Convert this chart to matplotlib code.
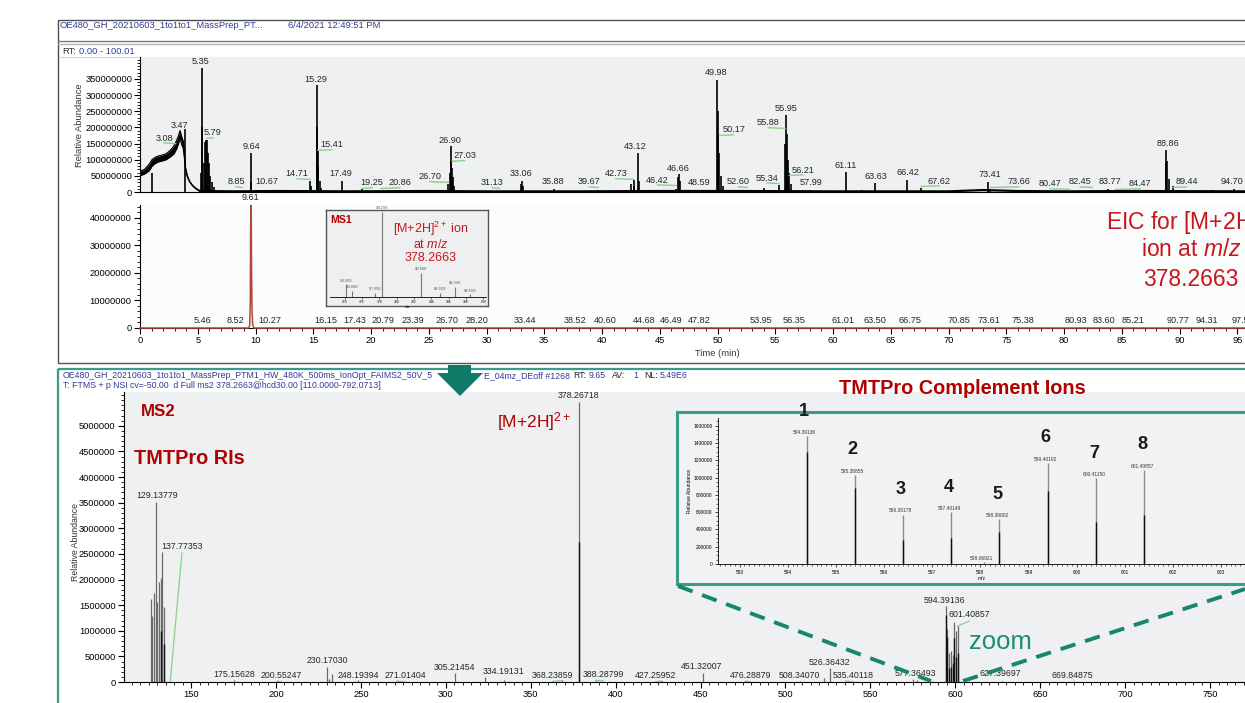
import matplotlib
matplotlib.use("Agg")
import matplotlib.pyplot as plt
from matplotlib import font_manager
from matplotlib.patches import Rectangle, Polygon
from matplotlib.ticker import MultipleLocator, FixedLocator, FuncFormatter

W, H = 1245, 703

# ---------------- TIC (intensity in 1e8) ----------------
tic_hump_t = [0.0, 0.4, 0.8, 1.04, 1.3, 1.56, 1.9, 2.25, 2.6, 2.94, 3.2, 3.35, 3.47, 3.6, 3.75, 3.85,
              3.95, 4.1, 4.3, 4.55, 4.8, 5.0, 5.2]
tic_hump_lo = [0.50, 0.56, 0.66, 0.80, 0.88, 0.93, 0.96, 1.00, 1.08, 1.18, 1.36, 1.52, 1.70, 1.48, 1.35, 1.05,
               0.68, 0.47, 0.31, 0.19, 0.11, 0.06, 0.02]
tic_hump_hi = [0.64, 0.70, 0.86, 1.00, 1.07, 1.11, 1.14, 1.18, 1.28, 1.42, 1.62, 1.76, 1.90, 1.72, 1.56, 1.16,
               0.73, 0.50, 0.33, 0.21, 0.13, 0.08, 0.04]
tic_stick_t = [1.04, 3.9, 5.25, 5.35, 5.40, 5.50, 5.62, 5.72, 5.79, 5.88, 5.95, 6.05, 6.2, 6.4,
               9.60, 9.64, 10.67, 14.71, 14.80, 15.29, 15.33, 15.38, 15.45, 15.55, 15.70, 17.49, 19.25, 20.86,
               26.70, 26.80, 26.90, 26.95, 27.03, 27.10, 27.20, 31.13, 33.0, 33.06, 33.15, 35.88, 39.67,
               42.5, 42.73, 42.8, 43.12, 43.2, 46.42, 46.60, 46.66, 46.75, 48.59,
               49.98, 50.02, 50.08, 50.17, 50.3, 50.5, 52.6, 54.0, 55.34, 55.88, 55.95, 56.02, 56.1, 56.21, 56.4, 57.99,
               61.11, 62.5, 63.63, 66.42, 67.62, 73.41, 73.6, 83.77, 88.80, 88.86, 88.95, 89.05, 89.44, 92.8, 94.70]
tic_stick_i = [0.60, 1.95, 0.60, 3.84, 2.00, 0.90, 1.55, 1.62, 1.60, 1.20, 0.90, 0.50, 0.30, 0.15,
               0.30, 1.20, 0.05, 0.35, 0.20, 3.30, 2.00, 1.30, 0.80, 0.35, 0.12, 0.35, 0.08, 0.04,
               0.25, 0.60, 1.43, 0.95, 0.75, 0.45, 0.20, 0.03, 0.25, 0.35, 0.20, 0.08, 0.05,
               0.25, 0.38, 0.20, 1.20, 0.35, 0.08, 0.45, 0.55, 0.35, 0.05,
               3.47, 2.50, 1.80, 1.20, 0.50, 0.20, 0.05, 0.12, 0.22, 1.50, 2.38, 1.80, 1.00, 0.60, 0.25, 0.06,
               0.62, 0.05, 0.28, 0.38, 0.12, 0.30, 0.08, 0.08, 0.90, 1.30, 0.95, 0.40, 0.20, 0.05, 0.08]
tic_base_t = [5.2, 8, 12, 18, 25, 30, 38, 45, 52, 60, 70, 73, 76, 80, 86, 95.7]
tic_base_i = [0.03, 0.02, 0.03, 0.02, 0.03, 0.02, 0.02, 0.03, 0.03, 0.02, 0.02, 0.06, 0.03, 0.02, 0.03, 0.02]
tic_lab = ["3.08", "3.47", "5.35", "5.79", "8.85", "9.64", "10.67", "14.71", "15.29", "15.41", "17.49",
           "19.25", "20.86", "26.70", "26.90", "27.03", "31.13", "33.06", "35.88", "39.67", "42.73", "43.12",
           "46.42", "46.66", "48.59", "49.98", "50.17", "52.60", "55.34", "55.88", "55.95", "56.21", "57.99",
           "61.11", "63.63", "66.42", "67.62", "73.41", "73.66", "80.47", "82.45", "83.77", "84.47", "88.86",
           "89.44", "94.70"]
tic_lab_x = [2.08, 3.46, 5.28, 6.32, 8.31, 9.61, 11.0, 13.6, 15.2, 16.6, 17.4, 20.1, 22.5, 25.1, 26.8, 28.1,
             30.5, 33.0, 35.8, 38.9, 41.2, 42.9, 44.8, 46.6, 48.4, 49.9, 51.4, 51.8, 54.3, 54.4, 55.9, 57.4,
             58.1, 61.1, 63.7, 66.5, 69.2, 73.6, 76.1, 78.8, 81.4, 84.0, 86.6, 89.0, 90.6, 94.55]
tic_lab_h = [1.67, 2.05, 4.03, 1.83, 0.31, 1.40, 0.31, 0.56, 3.47, 1.46, 0.56, 0.28, 0.28, 0.47, 1.61, 1.12,
             0.28, 0.56, 0.31, 0.31, 0.56, 1.40, 0.37, 0.74, 0.28, 3.69, 1.92, 0.31, 0.43, 2.14, 2.60, 0.68,
             0.28, 0.81, 0.47, 0.59, 0.34, 0.53, 0.31, 0.25, 0.31, 0.34, 0.25, 1.49, 0.31, 0.34]

# ---------------- EIC (intensity in 1e7) ----------------
eic_t = [0.0, 9.40, 9.50, 9.55, 9.58, 9.61, 9.63, 9.66, 9.70, 9.75, 9.85, 95.7]
eic_i = [0.0, 0.0, 0.1, 1.0, 3.6, 4.45, 4.0, 2.0, 0.6, 0.15, 0.0, 0.0]
eic_lab = ["9.61", "5.46", "8.52", "10.27", "16.15", "17.43", "20.79", "23.39", "26.70", "28.20", "33.44",
           "38.52", "40.60", "44.68", "46.49", "47.82", "53.95", "56.35", "61.01", "63.50", "66.75", "70.85",
           "73.61", "75.38", "80.93", "83.60", "85.21", "90.77", "94.31", "97.51"]
eic_lab_x = [9.61, 5.41, 8.29, 11.26, 16.1, 18.6, 21.0, 23.65, 26.56, 29.2, 33.3, 37.7, 40.3, 43.65, 46.0,
             48.4, 53.8, 56.6, 60.9, 63.6, 66.7, 70.9, 73.5, 76.4, 81.0, 83.5, 86.0, 89.9, 92.4, 95.5]
eic_lab_h = [4.76, 0.29, 0.29, 0.29, 0.29, 0.29, 0.29, 0.29, 0.29, 0.29, 0.29, 0.29, 0.29, 0.29, 0.29,
             0.29, 0.29, 0.29, 0.29, 0.29, 0.29, 0.29, 0.29, 0.29, 0.29, 0.29, 0.29, 0.29, 0.29, 0.29]

# ---------------- MS1 mini spectrum (relative) ----------------
ms1_mz = [374.2, 374.8, 377.5, 378.27, 382.8, 385.0, 386.7, 388.5]
ms1_int = [0.15, 0.07, 0.05, 1.0, 0.28, 0.05, 0.12, 0.03]

# ---------------- MS2 spectrum (intensity in 1e6) ----------------
ms2_mz = [126.13, 127.13, 128.13, 129.14, 130.14, 131.14, 132.15, 133.15, 134.15,
          137.77, 175.16, 200.55, 230.17, 231.2, 233.2, 248.19, 271.01, 305.21, 323.0, 334.19, 368.24,
          378.27, 388.29, 427.26, 451.32, 476.29, 508.34, 522.5, 526.36, 535.40, 575.3, 577.36,
          594.39, 595.39, 596.39, 597.40, 598.40, 599.40, 600.41, 601.41, 627.40, 669.85]
ms2_int = [1.62, 1.29, 1.74, 3.52, 1.56, 1.95, 2.03, 2.54, 1.47,
           0.02, 0.03, 0.02, 0.30, 0.06, 0.15, 0.03, 0.02, 0.17, 0.10, 0.03, 0.03,
           5.47, 0.03, 0.02, 0.17, 0.02, 0.02, 0.08, 0.27, 0.02, 0.05, 0.04,
           1.48, 1.03, 0.57, 0.60, 0.52, 1.17, 0.99, 1.09, 0.02, 0.02]
ms2_dark_mz = [132.15, 134.15, 378.27, 594.39, 595.39, 596.39, 597.40, 598.40, 599.40, 600.41, 601.41]
ms2_dark_int = [1.00, 0.74, 2.74, 1.30, 0.88, 0.28, 0.30, 0.37, 0.85, 0.49, 0.57]
ms2_lab = ["129.13779", "137.77353", "175.15628", "200.55247", "230.17030", "248.19394", "271.01404",
           "305.21454", "334.19131", "368.23859", "378.26718", "388.28799", "427.25952", "451.32007",
           "476.28879", "508.34070", "526.36432", "535.40118", "577.36493", "594.39136", "601.40857",
           "627.39697", "669.84875"]
ms2_lab_x = [129.7, 144.6, 175.3, 203.3, 230.3, 248.2, 276.2, 305.3, 334.0, 362.9, 377.9, 392.6, 423.2,
             450.8, 479.6, 507.9, 526.1, 540.0, 576.8, 593.9, 608.2, 626.8, 669.1]
ms2_lab_h = [3.64, 2.64, 0.14, 0.12, 0.42, 0.13, 0.12, 0.29, 0.21, 0.13, 5.60, 0.14, 0.12, 0.30, 0.12,
             0.13, 0.39, 0.12, 0.17, 1.60, 1.31, 0.17, 0.12]

# ---------------- complement ion zoom (intensity in 1e6) ----------------
ins_lab = ["594.39136", "595.38855", "596.39178", "597.40149", "598.39802", "599.40192", "600.41150",
           "601.40857", "598.06921"]
ins_int = [1.48, 1.03, 0.57, 0.60, 0.52, 1.17, 0.99, 1.09, 0.02]
ins_dark = [1.30, 0.88, 0.28, 0.30, 0.37, 0.85, 0.49, 0.57, 0.0]
ins_num = ["1", "2", "3", "4", "5", "6", "7", "8"]

# ---------------- fonts / colours ----------------
names = {f.name for f in font_manager.fontManager.ttflist}
NARROW = "Liberation Sans Narrow" in names
FN = "Liberation Sans Narrow" if NARROW else "Liberation Sans"
K = 1.0 if NARROW else 0.84
plt.rcParams["font.family"] = [FN, "DejaVu Sans"]
plt.rcParams["mathtext.fontset"] = "custom"
plt.rcParams["mathtext.rm"] = "Liberation Sans"
plt.rcParams["mathtext.it"] = "Liberation Sans:italic"
plt.rcParams["mathtext.bf"] = "Liberation Sans:bold"

BLUE = "#2f3b9a"
RED = "#c8161d"
DRED = "#b00000"
TEAL = "#3a9b8b"
DTEAL = "#0e7a68"
GREEN = "#86d386"
GRAYBG = "#eff0f1"
intfmt = FuncFormatter(lambda v, p: "%d" % round(v))

fig = plt.figure(figsize=(W / 100, H / 100), dpi=100)
fig.patch.set_facecolor("white")


def px_axes(x0, y0, x1, y1, **kw):
    return fig.add_axes([x0 / W, 1 - y1 / H, (x1 - x0) / W, (y1 - y0) / H], **kw)


def style(ax, face, lw=0.8):
    ax.set_facecolor(face)
    for s in ("top", "right"):
        ax.spines[s].set_visible(False)
    for s in ("left", "bottom"):
        ax.spines[s].set_linewidth(lw)
        ax.spines[s].set_color("black")


# background / frames
bg = fig.add_axes([0, 0, 1, 1])
bg.set_xlim(0, W)
bg.set_ylim(H, 0)
bg.axis("off")
bg.add_patch(Rectangle((57.5, 19.5), 1300, 343, fill=False, ec="#4d4d4d", lw=1.0))
bg.plot([57.5, W], [41, 41], color="#7a7a7a", lw=1.0)
bg.plot([57.5, W], [43.5, 43.5], color="#b5b5b5", lw=1.0)
bg.plot([60, W], [57, 57], color="#d5d5d5", lw=0.8)
bg.plot([60, W], [362, 362], color="#dadada", lw=0.8)
bg.add_patch(Rectangle((58, 368.5), 1300, 400, fill=False, ec=TEAL, lw=1.6))

hs = 8 * K
bg.text(60, 25, "OE480_GH_20210603_1to1to1_MassPrep_PT...", color=BLUE, fontsize=hs, va="center")
bg.text(288, 25, "6/4/2021 12:49:51 PM", color=BLUE, fontsize=hs, va="center")
bg.text(62, 52, "RT:", color="#333333", fontsize=hs, va="center")
bg.text(79, 52, "0.00 - 100.01", color=BLUE, fontsize=hs, va="center")
bg.text(80, 125, "Relative Abundance", rotation=90, fontsize=8 * K, ha="center", va="center", color="#333333")
bg.text(717, 353, "Time (min)", fontsize=8 * K, ha="center", va="center", color="#333333")

ls = 7.5 * K
bg.text(63, 376, "OE480_GH_20210603_1to1to1_MassPrep_PTM1_HW_480K_500ms_IonOpt_FAIMS2_50V_5",
        color=BLUE, fontsize=ls, va="center")
bg.text(484, 376, "E_04mz_DEoff #1268", color=BLUE, fontsize=ls, va="center")
for x, s, c in [(573, "RT:", "#222222"), (589, "9.65", BLUE), (612, "AV:", "#222222"), (633, "1", BLUE),
                (644, "NL:", "#222222"), (660, "5.49E6", BLUE)]:
    bg.text(x, 376, s, color=c, fontsize=ls, va="center")
bg.text(63, 386, "T: FTMS + p NSI cv=-50.00  d Full ms2 378.2663@hcd30.00 [110.0000-792.0713]",
        color=BLUE, fontsize=ls, va="center")
bg.text(76, 542, "Relative Abundance", rotation=90, fontsize=7.5 * K, ha="center", va="center", color="#333333")

# ---------------- TIC ----------------
ax1 = px_axes(140, 57, 1245, 192)
style(ax1, GRAYBG)
ax1.set_xlim(0, 95.67)
ax1.set_ylim(0, 4.18e8)
lo = [v * 1e8 for v in tic_hump_lo]
hi = [v * 1e8 for v in tic_hump_hi]
ax1.fill_between(tic_hump_t, lo, hi, color="black", lw=0)
ax1.plot(tic_hump_t, hi, color="black", lw=0.9)
ax1.plot(tic_hump_t, lo, color="black", lw=0.9)
ax1.vlines(tic_stick_t, 0, [v * 1e8 for v in tic_stick_i], color="black", lw=1.2)
ax1.plot(tic_base_t, [v * 1e8 for v in tic_base_i], color="black", lw=1.6)
ax1.yaxis.set_major_locator(FixedLocator([i * 5e7 for i in range(8)]))
ax1.yaxis.set_minor_locator(MultipleLocator(1e7))
ax1.yaxis.set_major_formatter(intfmt)
ax1.tick_params(axis="y", which="major", length=4, width=0.8, labelsize=8 * K, pad=1.5)
ax1.tick_params(axis="y", which="minor", length=2, width=0.6)
ax1.tick_params(axis="x", which="both", length=0, labelbottom=False)
for s, x, h in zip(tic_lab, tic_lab_x, tic_lab_h):
    ax1.text(x, h * 1e8, s, ha="center", va="center", fontsize=7.8 * K, color="#262626", clip_on=False)
    t = float(s)
    if abs(x - t) > 0.4:
        y0 = h * 1e8 - 0.15e8
        ax1.plot([x, t], [y0, y0 - 0.02e8], color=GREEN, lw=1.0)

# ---------------- EIC ----------------
ax2 = px_axes(140, 205, 1245, 328)
style(ax2, "#fbfcfc")
ax2.set_xlim(0, 95.67)
ax2.set_ylim(0, 4.47e7)
ax2.plot(eic_t, [v * 1e7 for v in eic_i], color="#b5423c", lw=1.1, zorder=5, clip_on=False)
ax2.yaxis.set_major_locator(FixedLocator([i * 1e7 for i in range(5)]))
ax2.yaxis.set_minor_locator(MultipleLocator(2e6))
ax2.yaxis.set_major_formatter(intfmt)
ax2.xaxis.set_major_locator(MultipleLocator(5))
ax2.xaxis.set_minor_locator(MultipleLocator(1))
ax2.xaxis.set_major_formatter(intfmt)
ax2.tick_params(axis="both", which="major", length=4, width=0.8, labelsize=8 * K, pad=2)
ax2.tick_params(axis="both", which="minor", length=2.5, width=0.6)
for s, x, h in zip(eic_lab, eic_lab_x, eic_lab_h):
    ax2.text(x, h * 1e7, s, ha="center", va="center", fontsize=7.8 * K, color="#262626", clip_on=False)
    t = float(s)
    if abs(x - t) > 0.4:
        y0 = h * 1e7 - 0.35e7
        ax2.plot([x, t], [y0, y0 - 0.05e7], color=GREEN, lw=1.0)

# MS1 inset box
mb = px_axes(326, 210, 488, 306)
mb.set_facecolor("#eeeff0")
mb.set_xticks([])
mb.set_yticks([])
for s in mb.spines.values():
    s.set_color("#555555")
    s.set_linewidth(1.0)
m1 = px_axes(330, 212, 486, 297)
m1.patch.set_alpha(0)
for s in ("top", "right", "left"):
    m1.spines[s].set_visible(False)
m1.spines["bottom"].set_linewidth(0.6)
m1.set_xlim(372.3, 390.3)
m1.set_ylim(0, 1.0)
m1.vlines(ms1_mz, 0, ms1_int, color="#777777", lw=0.8)
for x, v in zip(ms1_mz, ms1_int):
    m1.text(x, v + 0.02, "%.4f" % x, fontsize=2.2, ha="center", va="bottom", color="#555555")
m1.set_yticks([])
m1.xaxis.set_major_locator(MultipleLocator(2))
m1.xaxis.set_major_formatter(intfmt)
m1.tick_params(axis="x", length=1.5, width=0.4, labelsize=2.4, pad=0.8)
m1.set_xlabel("m/z", fontsize=2.4, labelpad=0.5)

# ---------------- MS2 ----------------
ax3 = px_axes(124, 392, 1245, 682)
style(ax3, GRAYBG)
ax3.set_xlim(110.5, 770.6)
ax3.set_ylim(0, 5.66e6)
ax3.vlines(ms2_mz, 0, [v * 1e6 for v in ms2_int], color="#6a6a6a", lw=0.9)
ax3.vlines(ms2_dark_mz, 0, [v * 1e6 for v in ms2_dark_int], color="#111111", lw=1.0)
ax3.yaxis.set_major_locator(FixedLocator([i * 5e5 for i in range(11)]))
ax3.yaxis.set_minor_locator(MultipleLocator(1e5))
ax3.yaxis.set_major_formatter(intfmt)
ax3.xaxis.set_major_locator(MultipleLocator(50))
ax3.xaxis.set_minor_locator(MultipleLocator(5))
ax3.xaxis.set_major_formatter(intfmt)
ax3.tick_params(axis="both", which="major", length=4, width=0.8, labelsize=8 * K, pad=2)
ax3.tick_params(axis="both", which="minor", length=2, width=0.6)
for s, x, h in zip(ms2_lab, ms2_lab_x, ms2_lab_h):
    ax3.text(x, h * 1e6, s, ha="center", va="center", fontsize=7.5 * K, color="#262626", clip_on=False)
    mz = float(s)
    if abs(x - mz) > 2:
        near = [v for m, v in zip(ms2_mz, ms2_int) if abs(m - mz) < 0.5]
        ax3.plot([x, mz], [h * 1e6 - 0.12e6, (near[0] if near else 0) * 1e6],
                 color=GREEN, lw=0.9)

# zoom box with complement ions
zb = px_axes(677, 412, 1262, 584)
zb.set_facecolor("#f1f2f3")
zb.set_xticks([])
zb.set_yticks([])
for s in zb.spines.values():
    s.set_color(TEAL)
    s.set_linewidth(2.2)
ai = px_axes(718, 418, 1245, 564)
ai.patch.set_alpha(0)
for s in ("top", "right"):
    ai.spines[s].set_visible(False)
for s in ("left", "bottom"):
    ai.spines[s].set_linewidth(0.6)
ai.set_xlim(592.55, 603.5)
ai.set_ylim(0, 1.69e6)
ins_mz = [float(s) for s in ins_lab]
ai.vlines(ins_mz, 0, [v * 1e6 for v in ins_int], color="#8a8a8a", lw=1.0)
ai.vlines(ins_mz, 0, [v * 1e6 for v in ins_dark], color="#111111", lw=1.0)
for s, x, v in zip(ins_lab, ins_mz, ins_int):
    ai.text(x - 0.05, v * 1e6 + 0.015e6, s, ha="center", va="bottom", fontsize=4.2 * K, color="#333333")
for n, x, v in zip(ins_num, ins_mz, ins_int):
    ai.text(x - 0.05, v * 1e6 + 0.29e6, n, ha="center", va="center", fontsize=15.5 * K,
            fontweight="bold", color="#1a1a1a", clip_on=False)
ai.yaxis.set_major_locator(FixedLocator([i * 2e5 for i in range(9)]))
ai.yaxis.set_minor_locator(MultipleLocator(5e4))
ai.yaxis.set_major_formatter(intfmt)
ai.xaxis.set_major_locator(MultipleLocator(1))
ai.xaxis.set_minor_locator(MultipleLocator(0.1))
ai.xaxis.set_major_formatter(intfmt)
ai.tick_params(axis="both", which="major", length=2.5, width=0.5, labelsize=4.2 * K, pad=1.5)
ai.tick_params(axis="both", which="minor", length=1.2, width=0.4)
ai.set_xlabel("m/z", fontsize=4.2 * K, labelpad=1)
ai.set_ylabel("Relative Abundance", fontsize=4.2 * K, labelpad=1)

# ---------------- overlay annotations ----------------
ov = fig.add_axes([0, 0, 1, 1], zorder=20)
ov.set_xlim(0, W)
ov.set_ylim(H, 0)
ov.axis("off")
ov.patch.set_alpha(0)
ov.add_patch(Polygon([(448, 365), (471, 365), (471, 373), (483, 373), (460, 396), (437, 373), (448, 373)],
                     closed=True, fc=DTEAL, ec="none"))
ov.plot([678, 931], [586, 681], color="#16866f", lw=2.8, ls=(0, (4, 2.6)))
ov.plot([963, 1245], [681, 589], color="#16866f", lw=2.8, ls=(0, (4, 2.6)))
ov.text(1000, 642, "zoom", fontsize=22 * K, color="#1b8c76", ha="center", va="center")

ov.text(962, 388, "TMTPro Complement Ions", fontsize=17 * K, fontweight="bold", color=DRED,
        ha="center", va="center")
ov.text(158, 412, "MS2", fontsize=14.5 * K, fontweight="bold", color=DRED, ha="center", va="center")
ov.text(189, 459, "TMTPro RIs", fontsize=17 * K, fontweight="bold", color=DRED, ha="center", va="center")
ov.text(534, 422, r"[M+2H]$^{2+}$", fontsize=12.5, color=DRED, ha="center", va="center",
        family="Liberation Sans")

ov.text(1106, 222, r"EIC for [M+2H]$^{2+}$", fontsize=16.5, color=RED, ha="left", va="center",
        family="Liberation Sans")
ov.text(1141, 250, r"ion at $m/z$", fontsize=16.5, color=RED, ha="left", va="center",
        family="Liberation Sans")
ov.text(1143, 280, "378.2663", fontsize=16.5, color=RED, ha="left", va="center", family="Liberation Sans")

ov.text(341, 220, "MS1", fontsize=9 * K, fontweight="bold", color=DRED, ha="center", va="center")
ov.text(431, 229, r"[M+2H]$^{2+}$ ion", fontsize=9, color=RED, ha="center", va="center",
        family="Liberation Sans")
ov.text(431, 244, r"at $m/z$", fontsize=9, color=RED, ha="center", va="center", family="Liberation Sans")
ov.text(431, 258, "378.2663", fontsize=9, color=RED, ha="center", va="center", family="Liberation Sans")

fig.savefig("out.png", dpi=100)
